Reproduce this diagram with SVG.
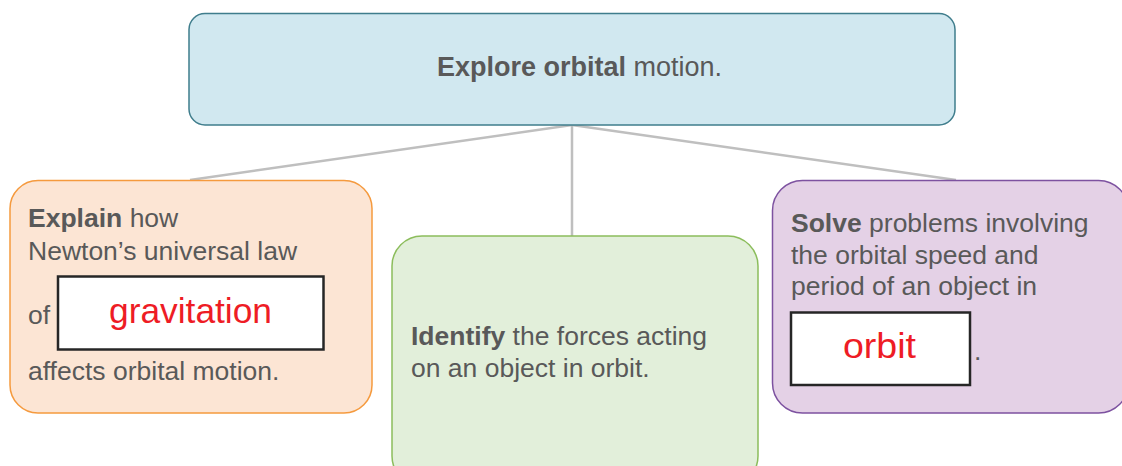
<svg xmlns="http://www.w3.org/2000/svg" width="1122" height="466" viewBox="0 0 1122 466">
  <style>
    .txt { font-family: "Liberation Sans", Arial, sans-serif; font-size: 26.5px; fill: #595959; }
    .b { font-weight: bold; }
    .ans { font-family: "Liberation Sans", Arial, sans-serif; font-size: 35px; fill: #ee1c25; }
    .blank { fill: #ffffff; stroke: #262626; stroke-width: 2.5; }
    .link { stroke: #bfbfbf; stroke-width: 2.5; fill: none; }
  </style>
  <rect width="1122" height="466" fill="#ffffff"/>

  <!-- connectors from the main goal to each sub-goal -->
  <g id="connectors">
    <line class="link" x1="572" y1="125" x2="190" y2="180"/>
    <line class="link" x1="572" y1="125" x2="572" y2="236"/>
    <line class="link" x1="572" y1="125" x2="956" y2="180"/>
  </g>

  <!-- main goal -->
  <g id="node-explore">
    <rect x="189" y="13.5" width="766" height="111.5" rx="16" fill="#d1e8f0" stroke="#3f7d8c" stroke-width="1.5"/>
    <text class="txt" x="437" y="76" style="font-size:27px"><tspan class="b">Explore orbital</tspan> motion.</text>
  </g>

  <!-- left sub-goal -->
  <g id="node-explain">
    <rect x="10" y="180.5" width="362" height="232.5" rx="28" fill="#fce5d4" stroke="#f59a3e" stroke-width="1.5"/>
    <text class="txt" x="28" y="227"><tspan class="b">Explain</tspan> how</text>
    <text class="txt" x="28" y="260">Newton’s universal law</text>
    <text class="txt" x="28" y="324">of</text>
    <rect class="blank" x="58" y="276.5" width="265.5" height="73"/>
    <text class="ans" x="109" y="323" textLength="163" lengthAdjust="spacingAndGlyphs">gravitation</text>
    <text class="txt" x="28" y="380">affects orbital motion.</text>
  </g>

  <!-- centre sub-goal -->
  <g id="node-identify">
    <rect x="392" y="236" width="366" height="250" rx="30" fill="#e2efda" stroke="#8cbd5c" stroke-width="1.5"/>
    <text class="txt" x="411" y="345"><tspan class="b">Identify</tspan> the forces acting</text>
    <text class="txt" x="411" y="376.5">on an object in orbit.</text>
  </g>

  <!-- right sub-goal -->
  <g id="node-solve">
    <rect x="772.5" y="180.5" width="356" height="232.5" rx="30" fill="#e4d1e6" stroke="#7d52a0" stroke-width="1.5"/>
    <text class="txt" x="791" y="232"><tspan class="b">Solve</tspan> problems involving</text>
    <text class="txt" x="791" y="264">the orbital speed and</text>
    <text class="txt" x="791" y="295">period of an object in</text>
    <rect class="blank" x="791" y="312.5" width="179" height="72.5"/>
    <text class="ans" x="843" y="358" textLength="73" lengthAdjust="spacingAndGlyphs">orbit</text>
    <text class="txt" x="974" y="360">.</text>
  </g>
</svg>
